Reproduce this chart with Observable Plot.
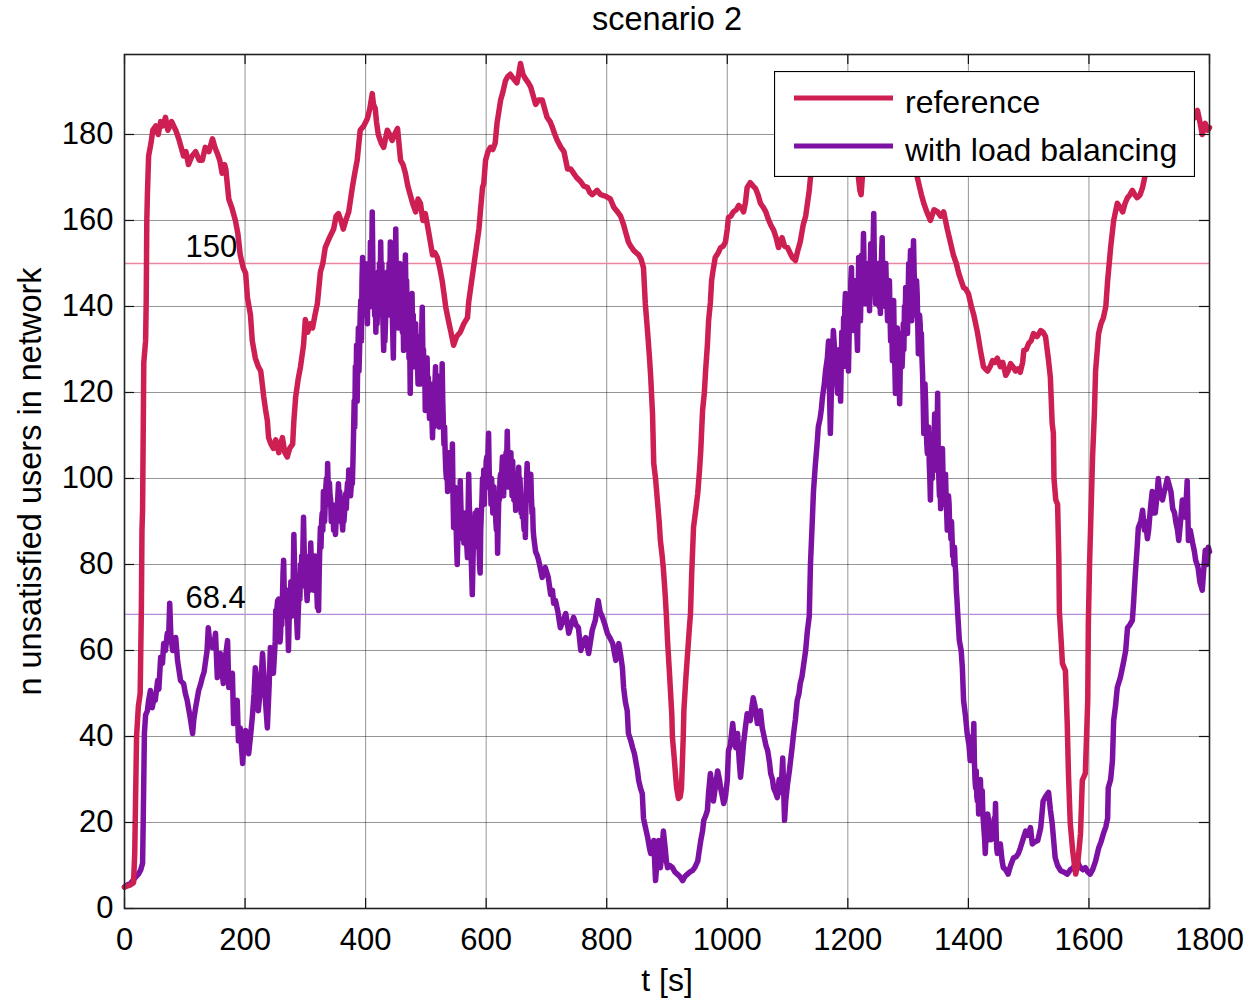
<!DOCTYPE html>
<html>
<head>
<meta charset="utf-8">
<script src="https://cdn.jsdelivr.net/npm/d3@7"></script>
<script src="https://cdn.jsdelivr.net/npm/@observablehq/plot@0.6"></script>
<style>
  html, body { margin: 0; padding: 0; background: #fff; }
  #wrap { position: relative; width: 1251px; height: 999px; }
  #legend { position: absolute; left: 774px; top: 71px; }
</style>
</head>
<body>
<div id="wrap"></div>
<script>
// Unsatisfied users over time, [t in s, count]
const reference = [
  [0,5],[10,5.5],[15,6],[17,13],[20,40],[23,47],[26,50],[28,70],[29,88],[30,92.6],[32,127],[35,132],[36,141],
  [37,160],[38,166],[40,175],[44,178],[47,181],[52,182],[56,180],[60,183],[64,182],[68,184],[72,181],[78,183],
  [85,181],[90,179],[98,175],[102,176],[106,173],[112,175],[118,176],[124,174],[129,174],[134,177],[140,176],
  [146,179],[150,177],[154,175.6],[158,174],[162,171],[166,173],[168,172],[173,165],[178,163],[184,160],[188,157],
  [192,152],[197,149],[201,147.7],[204,142],[209,138],[212,132],[217,128],[222,126],[226,125],[231,119],[234,116],
  [237,113.5],[239,109.5],[243,108],[247,107],[251,109],[256,106],[259,108],[262,109.5],[266,106],[270,105],
  [274,107],[279,108],[281,113.5],[284,119],[288,123],[292,126],[297,131],[300,137],[304,134],[308,136],[312,135],
  [316,138],[320,140.7],[325,148],[329,150],[333,153.7],[340,156],[347,158],[351,161],[355,161.6],[359,160],
  [363,158],[367,160],[372,162],[378,167.7],[382,171],[386,174],[391,181],[397,182],[403,183.7],[407,186],
  [411,189.5],[413,187],[416,186],[418,183],[421,180],[426,178],[430,177],[433,179],[436,181],[440,180],
  [444,178.6],[448,180],[453,181.4],[458,174],[462,173],[466,171],[470,168],[474,166],[478,164],[483,162],
  [487,165],[491,164],[495,160],[499,161.6],[505,157],[511,152],[515,152.5],[519,151.4],[523,149],[527,146],
  [530,143],[533,139.8],[537,137],[541,134.4],[546,131],[551,133],[557,134],[563,136],[569,137.4],[571,141],
  [575,145],[579,149],[584,154],[588,158],[591,163],[594,167.7],[596,168.6],[599,174],[603,176],[607,177],
  [611,176.5],[615,178],[618,182.6],[624,188],[628,190],[632,192.5],[636,193.5],[640,194],[645,193],[651,192],
  [654,194],[657,196.5],[661,194],[665,193],[670,192],[674,191],[678,189],[682,187],[687,188],[693,188],[697,186],
  [701,184],[706,183],[710,181.6],[714,180],[718,178.6],[724,177],[729,176],[732,174],[735,172],[740,172],
  [745,171],[750,170],[757,169],[762,168],[768,167.7],[772,166.5],[776,166],[780,166.5],[784,167],[790,166],
  [795,165.8],[800,165.5],[806,165],[812,163],[818,162],[823,161],[828,159],[832,157],[836,155],[840,154],
  [845,153],[849,152.5],[853,152],[857,151],[861,149],[864,140.7],[868,133.7],[871,128],[873,123.5],[876,115],
  [878,103.5],[881,100],[884,95],[887,90],[889,85.6],[892,82],[894,79],[897,73],[899,68],[901,62],[904,55],
  [906,50],[908,45],[909,39.8],[912,35],[914,31.4],[916,28],[919,25.6],[922,26],[924,28],[926,36],[927,40],
  [928,46],[931,53],[934,59],[937,65],[939,68.6],[941,78],[944,88.6],[948,93],[951,96.5],[954,102],[956,106.5],
  [959,115.8],[962,120],[964,125],[967,131],[969,136.7],[972,141],[974,146],[976,148],[980,151.4],[985,152.5],
  [989,153.7],[993,154],[997,155],[1000,158],[1002,160.7],[1006,161],[1010,162],[1015,162.5],[1019,163.5],
  [1023,163],[1027,162],[1030,164],[1033,167.7],[1038,168.8],[1043,168],[1047,167.4],[1051,166],[1055,164],
  [1060,163],[1064,162],[1067,160.7],[1072,159],[1077,157.7],[1081,156],[1085,153.7],[1088,155],[1091,156],
  [1095,154],[1100,153.7],[1104,152.5],[1108,151.4],[1111,151],[1113,150.7],[1117,153],[1121,155],[1126,159],
  [1130,161],[1133,164],[1136,167],[1138,170],[1142,173],[1150,176],[1165,179],[1180,180],[1195,178],[1208,176],
  [1216,172],[1220,167],[1222,166],[1224,170],[1230,175],[1245,179],[1260,181],[1280,182],[1295,180],[1305,176],
  [1312,172],[1317,169],[1322,166],[1326,164],[1331,162],[1337,160],[1343,162.5],[1349,162],[1354,161],
  [1359,162],[1362,160],[1365,158],[1370,155],[1375,152],[1380,150],[1384,147.7],[1388,146],[1392,144.4],
  [1396,144],[1400,143],[1405,140],[1409,138],[1412,136],[1415,134],[1420,129.8],[1425,126],[1428,125.5],
  [1432,125],[1436,126],[1440,127.4],[1444,127],[1448,128],[1453,126],[1457,127],[1462,124],[1466,125],
  [1470,126.7],[1474,126],[1478,125],[1482,125.5],[1486,124.7],[1490,127],[1492,129.8],[1496,130],[1500,131.4],
  [1504,132],[1508,133.7],[1514,133],[1520,134.4],[1524,134],[1528,133],[1533,127.4],[1536,123.5],[1539,112.8],
  [1541,110.5],[1542,100],[1545,95],[1548,94],[1550,81.6],[1551,69],[1554,62],[1556,57],[1561,55.3],[1564,43],
  [1566,31.4],[1569,19.8],[1573,13.5],[1576,10],[1578,8],[1581,10],[1583,12.8],[1586,17.4],[1589,29.8],
  [1594,31.4],[1598,48.4],[1599,66.3],[1601,80],[1603,90],[1606,105],[1609,115],[1611,125],[1616,133.7],
  [1620,136],[1624,137.4],[1628,140],[1631,146],[1636,153.7],[1641,160],[1647,164],[1652,163],[1656,162],
  [1660,164],[1664,165.3],[1668,166],[1672,167],[1676,166],[1680,165.3],[1685,166],[1689,167.7],[1694,171],
  [1710,174],[1730,177],[1750,180],[1765,182],[1775,184],[1780,185.6],[1784,183],[1788,180],[1793,182.6],
  [1797,181],[1800,181.6]
];

// With load balancing, split into stretches for readability
const balancedRise = [
  [0,5],[5,5.5],[10,5.8],[14,6.5],[18,7.2],[23,8],[27,9],[30,10.5],[31,19.8],[32,30],[33,40.7],[35,45],[38,46],
  [40,48.4],[43,50.7],[46,46.7],[49,49],[51,48.4],[55,53],[57,51],[60,58.4],[63,57],[65,61.6],[68,60],[71,64],
  [73,62],[75,71],[77,63],[80,60],[83,61],[85,63],[88,57.7],[93,53],[98,52.3],[101,50],[104,48.4],[107,46],
  [109,44.4],[113,40.7],[115,44],[118,46.7],[123,50.7],[126,52],[129,53.7],[132,55],[134,57],[137,60],[139,65.3],
  [142,61],[146,60.7],[149,62],[151,64],[154,53.7],[157,57],[159,59.3],[162,55],[164,52.3],[167,58],[171,62.3],
  [173,51.4],[176,53],[179,54.7],[181,43],[184,47],[187,48.4],[189,39],[192,42],[196,33.7],[198,38],[201,41.4],
  [204,39],[206,36],[209,40],[212,44.4],[215,50],[217,56],[220,52],[222,46],[226,52],[229,59.3],[233,50],[237,42],
  [240,52],[242,60.7],[245,57],[247,54.7]
];

const balancedPeak1 = [
  [250,62],[251,69.3],[252,64],[253,70],[254,71.6],[255,66],[256,72],[257,67],[258,62],[259,64],[260,70],[261,66],
  [262,72],[263,78],[264,81],[265,74],[266,70],[267,68],[268,74],[269,70],[270,74],[271,66],[272,60],[273,66],
  [274,72],[275,70],[276,76],[277,68],[278,72],[279,69.3],[280,78],[281,87],[282,80],[283,76],[284,75],[285,70],
  [286,66],[287,63],[288,68],[289,71.6],[290,76],[291,72],[292,80],[293,76],[294,82],[295,75],[296,84],[297,91],
  [298,84],[299,78],[300,82],[301,76],[302,74],[303,71.6],[304,76],[305,80],[306,78],[307,74],[308,80],[309,85],
  [310,80],[311,76],[312,79],[313,82],[314,74],[315,78],[316,82],[317,76],[318,80],[319,74],[320,70],[321,74],
  [322,69.3],[323,78],[324,84],[325,88.6],[326,84],[327,90],[328,92],[329,88],[330,97],[331,92],[332,90],[333,94],
  [334,98],[335,100],[336,96],[337,103.5],[338,98],[339,94],[340,99],[341,96],[342,95],[343,90],[344,94],[345,92],
  [346,91],[347,88],[348,92],[349,90],[350,87],[351,90],[352,94],[353,92],[354,96],[355,98.8],[356,94],[357,97],
  [358,94],[359,90],[360,92],[361,90],[362,88],[363,92],[364,90],[365,92],[366,95],[367,96.5],[368,93],[369,97],
  [370,99],[371,96],[372,102],[373,98],[374,100],[375,96],[376,98],[377,101],[378,98.8],[379,104],
  [380,110.5],[381,118],[382,112],[383,126],[384,120],[385,131],[386,118],[387,128],[388,135],[389,125],[390,130],
  [391,138],[392,141.4],[393,132],[394,146],[395,151.4],[396,140],[397,145],[398,138],[399,150],[400,147],
  [401,138],[402,144],[403,136],[404,148],[405,140],[406,150],[407,142],[408,155],[409,140],[410,148],[411,162],
  [412,150],[413,140],[414,145],[415,138],[416,144],[417,134],[418,142],[419,136],[420,139.8],[421,148],[422,142],
  [423,150],[424,140],[425,155],[426,146],[427,150],[428,141],[429,135],[430,129.8],[431,138],[432,132],[433,136],
  [434,145],[435,140],[436,148],[437,138],[438,142],[439,150],[440,144],[441,155],[442,146],[443,150],[444,140],
  [445,134],[446,128],[447,140],[448,150],[449,144],[450,158],[451,146],[452,150],[453,140],[454,135],[455,146],
  [456,140],[457,150],[458,147.7],[459,140],[460,136],[461,134],[462,140],[463,129.8],[464,140],[465,146],
  [466,152],[467,142],[468,146],[469,138],[470,132],[471,140],[472,128],[473,135],[474,119.8],[475,132],[476,138],
  [477,143],[478,134],[479,138],[480,130],[481,126],[482,132],[483,136],[484,128],[485,132],[486,126.7],[487,122],
  [488,130],[489,133],[490,126],[491,122],[492,130],[493,134],[494,139.8],[495,128],[496,130],[497,122],[498,126],
  [499,115.8]
];

const balancedMid = [
  [500,124],[501,120],[502,128],[503,120],[504,123.5],[505,118],[506,114],[507,116],[508,122],[509,120],[510,114],
  [511,109.5],[512,116],[513,112],[514,118],[515,122],[516,126],[517,118],[518,124],[519,120],[520,114],[521,118],
  [522,112],[523,116],[524,118],[525,122],[526,118],[527,126.7],[528,118],[529,112.8],[530,108],[531,112],
  [532,106],[533,102],[534,100],[535,104],[536,97],[537,102],[538,106],[539,100],[540,105],[541,98],[542,104],
  [543,100],[544,108],[545,96],[546,88.6],[547,94],[548,98],[549,95],[550,90],[551,84],[552,80],[553,86],[554,90],
  [555,96],[556,92],[557,99.5],[558,94],[559,90],[560,92],[561,86],[562,90],[563,85],[564,88],[565,92],[566,90],
  [567,86],[568,84],[569,81.6],[570,92],[571,101],[572,94],[573,90],[574,88],[575,82],[576,78],[577,73],[578,80],
  [579,86],[580,84],[581,88],[582,92],[583,90],[584,86],[585,92.6],[586,88],[587,84],[588,85],[589,80],[590,78],
  [591,88],[592,92],[593,95],[594,100],[595,96],[596,102],[597,94],[598,100],[599,98],[600,104],[601,105],[602,98],
  [603,106],[604,110.5],[605,102],[606,98],[607,100],[608,94],[609,100],[610,97],[611,92],[612,93],[613,98],
  [614,94],[615,96],[616,90],[617,88],[618,92],[619,82.6],[620,90],[621,96],[622,95],[623,100],[624,101],[625,96],
  [626,102],[627,105],[628,100],[629,96],[630,102],[631,98],[632,100],[633,106],[634,104],[635,111],[636,104],
  [637,98],[638,100],[639,104],[640,98],[641,106],[642,100],[643,96],[644,104],[645,98],[646,95],[647,100],
  [648,96],[649,92.6],[650,98],[651,94],[652,98],[653,100],[654,102.6],[655,96],[656,100],[657,97],[658,92],
  [659,96],[660,91],[661,95],[662,90],[663,88],[664,92],[665,86.3],[666,94],[667,100],[668,103.5],[669,98],
  [670,96],[671,95],[672,100],[673,98],[674,101],[675,96],[676,92],[677,93],[678,88],[679,86.3]
];

const balancedValley = [
  [682,83],[685,82],[687,81],[690,79],[693,77],[698,79.3],[703,77],[707,73],[710,74],[712,71],[715,71.6],
  [719,69],[723,65.3],[728,67],[732,68.6],[735,66],[737,64],[741,66],[745,67.7],[749,66],[753,65.3],[757,60],
  [761,62],[765,63],[770,59.3],[773,62],[776,64.7],[781,67],[786,71.6],[789,69],[793,67.7],[797,66],[801,64],
  [805,63],[810,61.6],[815,57.7],[820,61.6],[823,59],[826,56],[828,51.4],[831,48],[834,46],[836,40.7],[840,39],
  [843,37.4],[846,36],[848,34.4],[851,32],[853,29.8],[856,28],[859,26.7],[861,21],[864,19],[868,16.5],[871,14],
  [873,12.8],[876,14],[878,15.8],[881,6.5],[884,12],[886,15.8],[889,9.5],[891,12],[894,18],[897,14],[899,11],
  [901,9.5],[905,10],[909,9.5],[913,8.5],[917,8],[921,7.5],[926,6.5],[930,7.5],[934,8],[938,8.5],[942,8.8],
  [946,9.5],[951,11],[953,13],[956,15.8],[959,18],[961,20.5],[964,21.5],[967,22.8],[969,27],[972,31.4],[975,28],
  [977,25],[980,28],[984,32],[987,30],[989,28],[992,26],[994,24.4],[997,26],[1000,29.8],[1002,36.7],[1005,38],
  [1009,43],[1011,40],[1014,37.4],[1017,40.7],[1020,34],[1022,30.5],[1025,35],[1027,38.4],[1030,42],[1033,45.3],
  [1036,44],[1038,43.7],[1041,47],[1043,49],[1046,47],[1050,43],[1053,44],[1055,46],[1058,42],[1060,40.7],
  [1064,38],[1067,36.7],[1070,34],[1072,31.4],[1075,30],[1077,28],[1080,27],[1083,25.8],[1086,30],[1089,27],
  [1092,35],[1095,20.5],[1097,25],[1100,29],[1103,32],[1105,34.4],[1108,38],[1110,40.7],[1113,44],[1116,48.4],
  [1119,50],[1121,52.3],[1124,54],[1126,56],[1130,60],[1133,64.7],[1136,68],[1138,80],[1141,90],[1143,97],
  [1146,103],[1149,108],[1151,112],[1154,114],[1156,116],[1158,119],[1161,122],[1163,125],[1166,128],[1168,132],
  [1171,110.5],[1173,122],[1176,134.4],[1179,128],[1181,124],[1183,119.8]
];

const balancedPeak2 = [
  [1186,130],[1187,122],[1188,118],[1189,126],[1190,134],[1191,132],[1192,126],[1193,137.4],[1194,130],[1195,140],
  [1196,143],[1197,134],[1198,130],[1199,126],[1200,134],[1201,125],[1202,132],[1203,140],[1204,139],[1205,146],
  [1206,149],[1207,140],[1208,136],[1209,134.4],[1210,142],[1211,145],[1212,138],[1213,146],[1214,140],[1215,134],
  [1216,129.8],[1217,140],[1218,151.4],[1219,144],[1220,140],[1221,136.7],[1222,146],[1223,152],[1224,144],
  [1225,150],[1226,157],[1227,148],[1228,144],[1229,140.7],[1230,146],[1231,150],[1232,146],[1233,143],[1234,150],
  [1235,144],[1236,139],[1237,148],[1238,154.6],[1239,146],[1240,150],[1241,147.7],[1242,155],[1243,161.6],
  [1244,150],[1245,145],[1246,140.7],[1247,148],[1248,144],[1249,141.4],[1250,150],[1251,146],[1252,140],
  [1253,144],[1254,138.4],[1255,148],[1256,152],[1257,156],[1258,146],[1259,150],[1260,141],[1261,146],[1262,140],
  [1263,150],[1264,144],[1265,140],[1266,136.7],[1267,142],[1268,140],[1269,146],[1270,138],[1271,132],[1272,138],
  [1273,134],[1274,127.4],[1275,136],[1276,141.4],[1277,132],[1278,126],[1279,119.8],[1280,130],[1281,128],
  [1282,135],[1283,128],[1284,125],[1285,122],[1286,117.4],[1287,126],[1288,130],[1289,133.7],[1290,126],
  [1291,129.8],[1292,136],[1293,130],[1294,140],[1295,136],[1296,144.4],[1297,138],[1298,136],[1299,133.7],
  [1300,142],[1301,150],[1302,144],[1303,148],[1304,153],[1305,146],[1306,136.7],[1307,144],[1308,150],
  [1309,155.3],[1310,148],[1311,144],[1312,141.4],[1313,138],[1314,146],[1315,143],[1316,136],[1317,129],
  [1318,134],[1319,138],[1320,136],[1321,130],[1322,133.7],[1323,128],[1324,124.4],[1325,118],[1326,110.5],
  [1327,116],[1328,122],[1329,118],[1330,112],[1331,108],[1332,105.8],[1333,110],[1334,112],[1335,104],[1336,100],
  [1337,95],[1338,104],[1339,108],[1340,100],[1341,104],[1342,102.6],[1343,108],[1344,115],[1345,106],[1346,102],
  [1347,105],[1348,110],[1349,119.8],[1350,106],[1351,100],[1352,96],[1353,98],[1354,93],[1355,100],[1356,104],
  [1357,107],[1358,100],[1359,96],[1360,97],[1361,94],[1362,101],[1363,96],[1364,92],[1365,88],[1366,92],
  [1367,96],[1368,94],[1369,88],[1370,90],[1371,86],[1372,90],[1373,86],[1374,82],[1375,83],[1376,80],[1377,84],
  [1378,80],[1379,78],[1380,74],[1381,72],[1382,69.3]
];

const balancedTail = [
  [1385,62.3],[1388,60],[1390,56],[1392,48.4],[1395,45],[1398,40.7],[1401,38],[1403,34.4],[1404,38],[1405,36],
  [1406,40],[1407,35],[1408,38],[1409,43],[1410,34],[1411,30],[1412,28],[1413,32],[1414,26],[1415,25],[1416,28],
  [1417,22],[1418,26],[1419,28],[1420,30],[1421,24],[1422,26],[1423,27.4],[1424,22],[1425,20],[1427,16],
  [1428,12.8],[1429,16],[1430,20],[1431,18],[1432,22],[1433,21],[1434,16],[1435,18],[1436,17],[1438,16],
  [1440,17.4],[1442,20],[1443,21],[1444,18],[1445,24.4],[1446,18],[1447,14],[1448,12.8],[1450,15],[1451,14],
  [1453,15],[1456,11],[1458,9.5],[1462,9],[1466,8],[1470,10],[1475,11.8],[1479,12],[1483,12.8],[1486,14],
  [1490,15.8],[1495,18],[1499,17],[1503,18.8],[1506,15],[1510,15.5],[1515,15.8],[1520,18.8],[1524,25],[1528,26],
  [1533,27],[1536,23],[1539,19.8],[1542,15],[1544,11.8],[1548,10],[1553,8.8],[1558,8.5],[1564,8],[1569,9],
  [1574,9.5],[1578,10.5],[1581,11],[1584,10],[1586,9.5],[1590,9],[1594,9.5],[1598,8.5],[1602,8],[1606,9],
  [1611,11],[1616,14],[1620,15.5],[1624,17.4],[1628,19],[1631,21],[1632,28],[1636,30],[1639,34.4],[1641,43.7],
  [1644,47],[1647,51.4],[1652,53.7],[1657,57],[1661,60],[1664,65.3],[1668,66],[1672,67],[1674,71],[1677,78],
  [1680,84],[1682,88.6],[1686,90],[1689,92.6],[1692,88],[1694,90],[1697,86],[1699,88],[1702,93],[1705,97],
  [1707,92],[1710,92],[1713,96],[1715,100],[1718,96],[1722,95],[1725,97],[1727,98],[1730,100],[1732,99],
  [1736,97],[1739,93],[1742,92],[1744,90],[1747,88],[1749,85.6],[1752,90],[1755,95],[1758,92],[1760,91],
  [1763,99.5],[1765,85.6],[1768,88],[1772,85],[1775,83],[1777,81],[1781,79.3],[1784,76],[1788,74],[1790,78],
  [1793,83.3],[1796,80],[1798,84],[1800,83]
];

const balanced = [
  ...balancedRise, ...balancedPeak1, ...balancedMid,
  ...balancedValley, ...balancedPeak2, ...balancedTail
];

// Mean levels marked with reference lines
const levels = [150, 68.4];
const levelColors = ["#E8879F", "#B98AD6"];

const seriesNames = ["reference", "with load balancing"];
const seriesColors = ["#CD1F52", "#7D11A3"];

const xTicks = [0, 200, 400, 600, 800, 1000, 1200, 1400, 1600, 1800];
const yTicks = [0, 20, 40, 60, 80, 100, 120, 140, 160, 180];

const titleText = "scenario 2";
const xLabel = "t [s]";
const yLabel = "n unsatisfied users in network";

const W = 1251, H = 999;
const M = {left: 124, right: 42, top: 54, bottom: 91};
const innerW = W - M.left - M.right;
const innerH = H - M.top - M.bottom;
const tick = 10;
const FS = 31;
const LW = 5.5;
const font = "'Liberation Sans', Arial, Helvetica, sans-serif";

const levelRows = levels.map((v, i) => ({value: v, color: levelColors[i]}));

const chart = Plot.plot({
  width: W,
  height: H,
  marginLeft: M.left,
  marginRight: M.right,
  marginTop: M.top,
  marginBottom: M.bottom,
  x: {domain: [0, 1800]},
  y: {domain: [0, 198.6]},
  style: {fontFamily: font, background: "#fff", color: "#000", overflow: "visible"},
  marks: [
    Plot.gridX(xTicks, {stroke: "#000", strokeOpacity: 0.42, strokeWidth: 1}),
    Plot.gridY(yTicks, {stroke: "#000", strokeOpacity: 0.42, strokeWidth: 1}),
    Plot.ruleY(levelRows, {y: "value", stroke: "color", strokeWidth: 1.4}),
    Plot.text(levelRows, {
      y: "value", frameAnchor: "left", dx: 61, dy: -6,
      text: d => String(d.value), textAnchor: "start", lineAnchor: "bottom",
      fontSize: FS, fill: "#000"
    }),
    Plot.line(balanced, {
      x: d => d[0], y: d => d[1], stroke: seriesColors[1], strokeWidth: LW,
      strokeLinejoin: "round", strokeLinecap: "round"
    }),
    Plot.line(reference, {
      x: d => d[0], y: d => d[1], stroke: seriesColors[0], strokeWidth: LW,
      strokeLinejoin: "round", strokeLinecap: "round"
    }),
    // inward ticks on all four sides
    Plot.ruleX(xTicks, {x: d => d, insetTop: innerH - tick, stroke: "#111", strokeWidth: 1.2}),
    Plot.ruleX(xTicks, {x: d => d, insetBottom: innerH - tick, stroke: "#111", strokeWidth: 1.2}),
    Plot.ruleY(yTicks, {y: d => d, insetRight: innerW - tick, stroke: "#111", strokeWidth: 1.2}),
    Plot.ruleY(yTicks, {y: d => d, insetLeft: innerW - tick, stroke: "#111", strokeWidth: 1.2}),
    Plot.frame({stroke: "#222", strokeWidth: 1.6}),
    Plot.axisX(xTicks, {tickSize: 0, tickPadding: 19, fontSize: FS, label: null, tickFormat: d => String(d)}),
    Plot.axisY(yTicks, {tickSize: 0, tickPadding: 11, fontSize: FS, label: null, tickFormat: d => String(d)}),
    Plot.text([xLabel], {frameAnchor: "bottom", dy: 82, lineAnchor: "bottom", textAnchor: "middle", fontSize: 32, fill: "#000"}),
    Plot.text([yLabel], {frameAnchor: "left", dx: -94, rotate: -90, textAnchor: "middle", lineAnchor: "middle", fontSize: 32.5, fill: "#000"}),
    Plot.text([titleText], {frameAnchor: "top", dy: -25, lineAnchor: "bottom", textAnchor: "middle", fontSize: 32.5, fill: "#000"})
  ]
});

const wrap = document.getElementById("wrap");
wrap.appendChild(chart);

// Legend box drawn over the upper right of the plot area
const lg = d3.create("svg")
  .attr("id", "legend")
  .attr("width", 421)
  .attr("height", 106)
  .style("font-family", font);
lg.append("rect")
  .attr("x", 0.5).attr("y", 0.5).attr("width", 420).attr("height", 105)
  .attr("fill", "#fff").attr("stroke", "#000").attr("stroke-width", 1.2);
const rowY = [27, 75];
seriesNames.forEach((name, i) => {
  lg.append("line")
    .attr("x1", 20).attr("x2", 119).attr("y1", rowY[i]).attr("y2", rowY[i])
    .attr("stroke", seriesColors[i]).attr("stroke-width", 5);
  lg.append("text")
    .attr("x", 131).attr("y", rowY[i] + 15)
    .attr("font-size", 32).attr("fill", "#000")
    .text(name);
});
wrap.appendChild(lg.node());
</script>
</body>
</html>
